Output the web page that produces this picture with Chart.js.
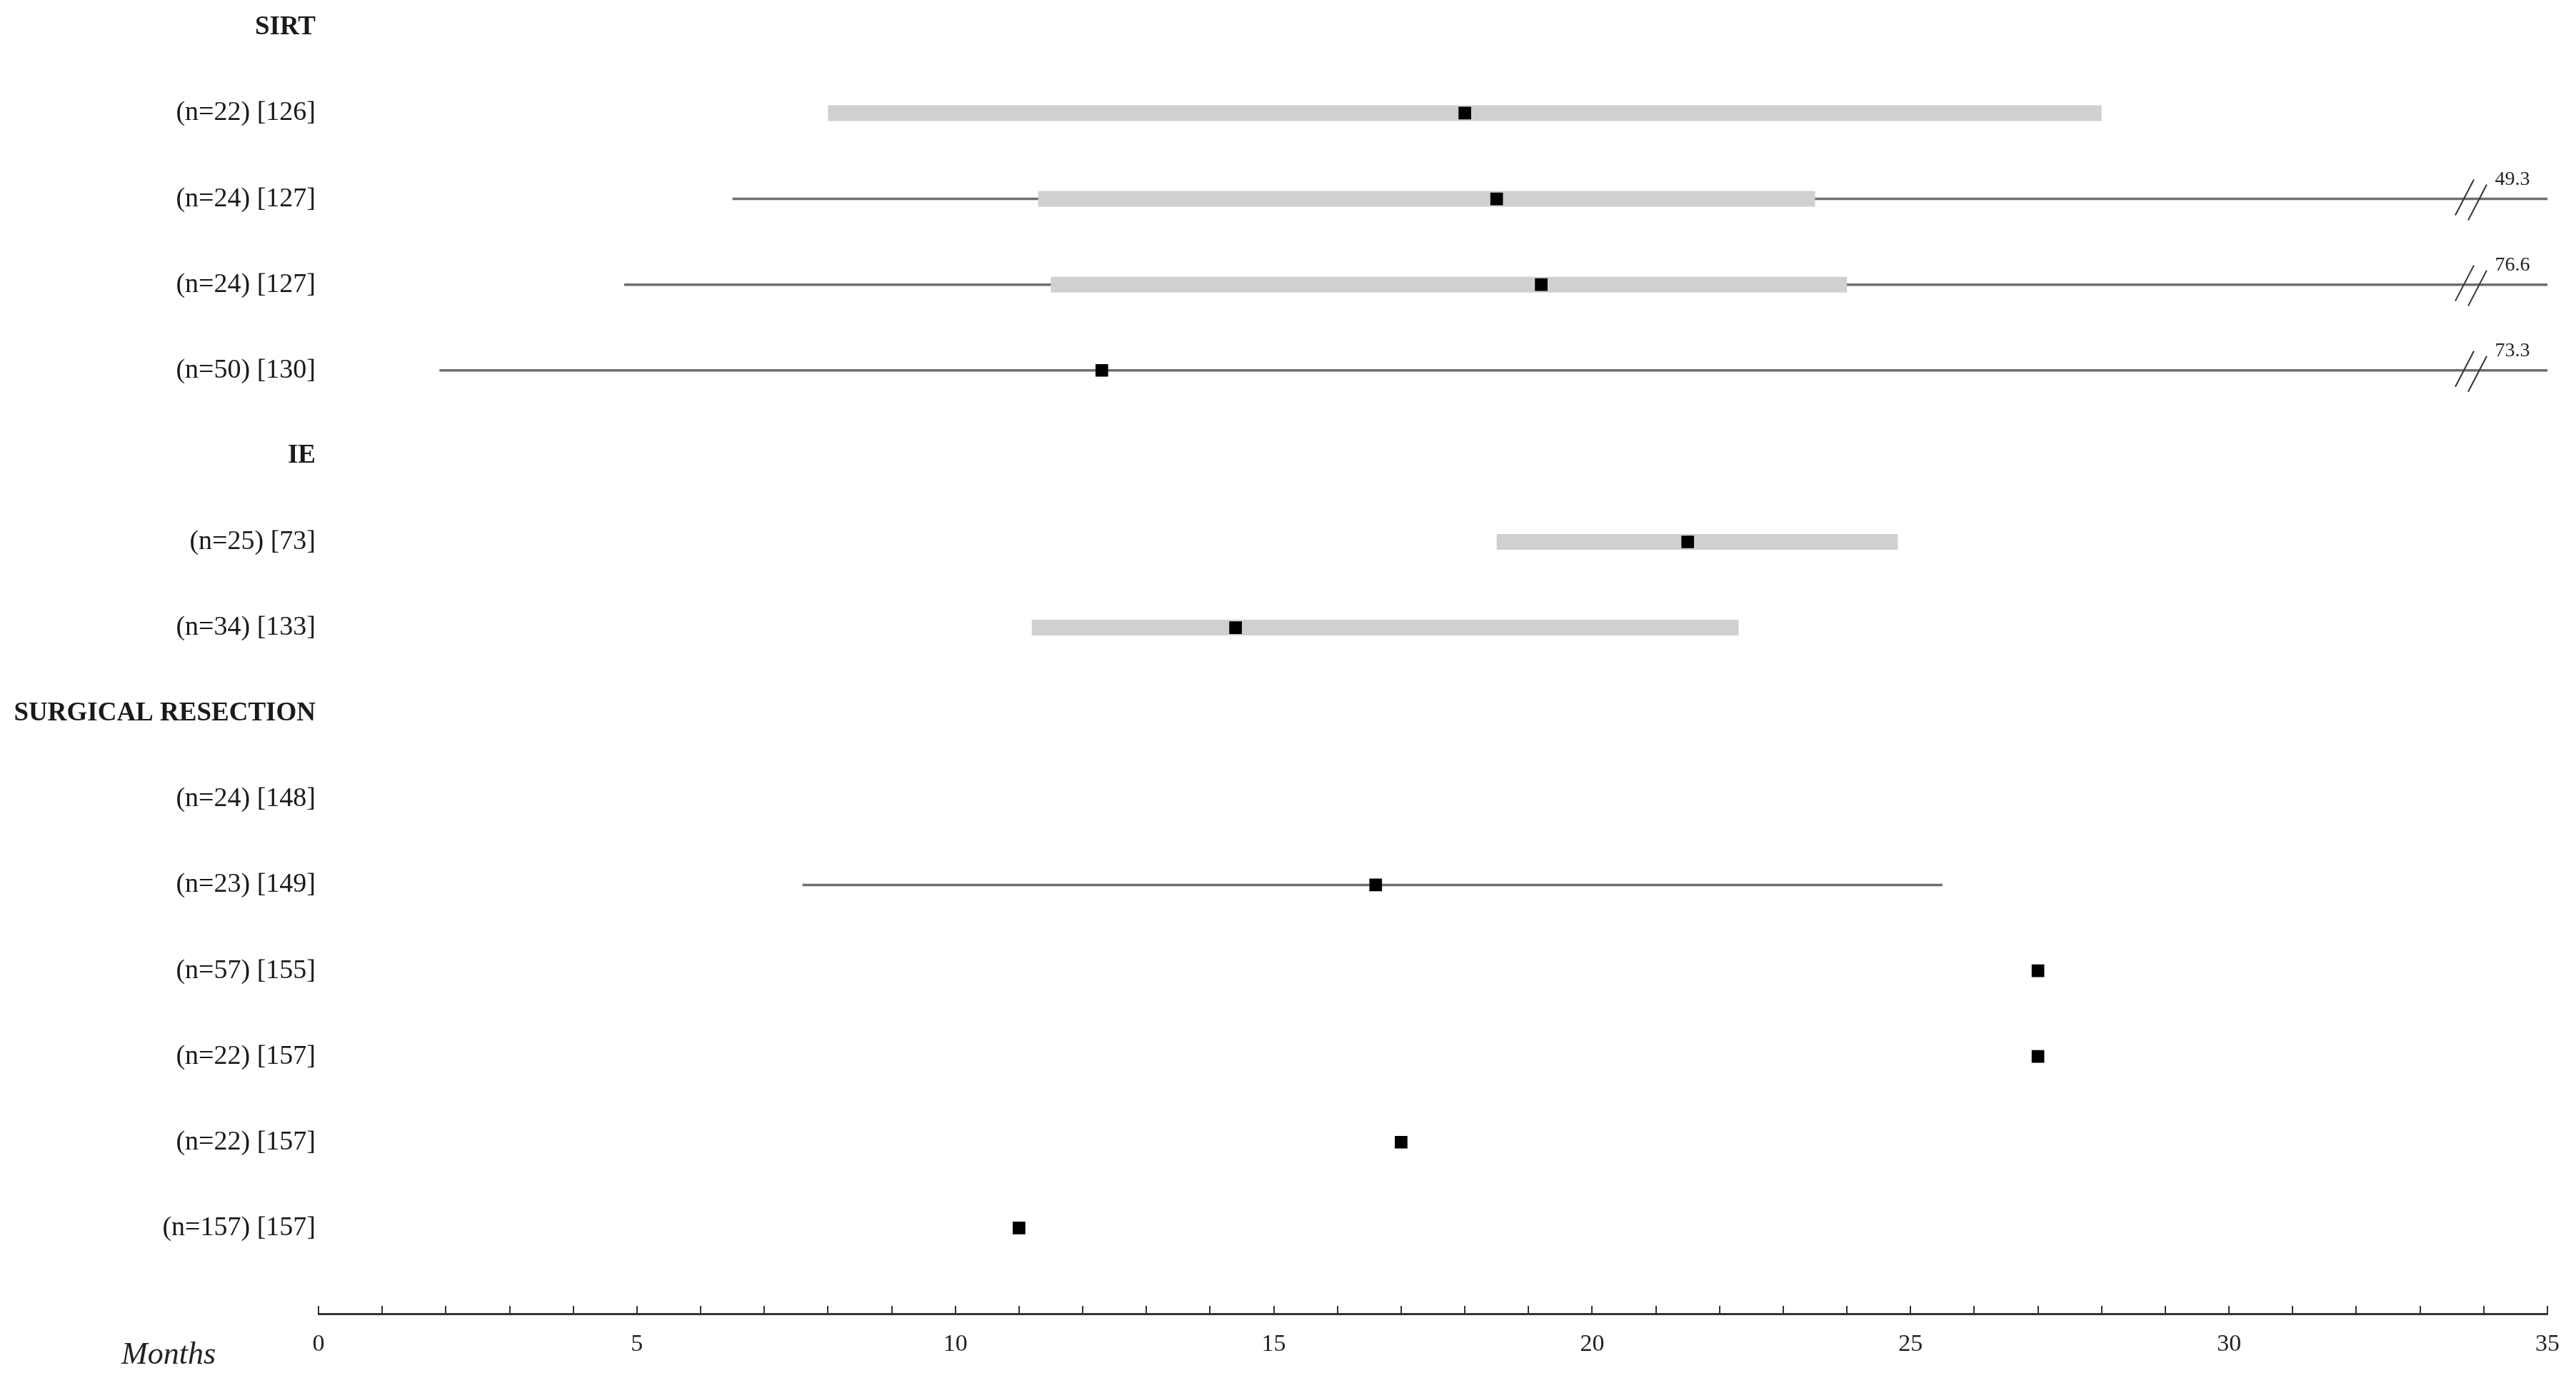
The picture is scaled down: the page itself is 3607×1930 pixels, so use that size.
<!DOCTYPE html>
<html>
<head>
<meta charset="utf-8">
<script src="https://cdn.jsdelivr.net/npm/chart.js@4.4.1/dist/chart.umd.min.js"></script>
<style>
html,body{margin:0;padding:0;background:#fff;}
#wrap{width:3607px;height:1930px;}
</style>
</head>
<body>
<div id="wrap"><canvas id="c" width="3607" height="1930"></canvas></div>
<script>
// ---- data ----
const rowLabels = ['SIRT','(n=22) [126]','(n=24) [127]','(n=24) [127]','(n=50) [130]',
  'IE','(n=25) [73]','(n=34) [133]',
  'SURGICAL RESECTION','(n=24) [148]','(n=23) [149]','(n=57) [155]','(n=22) [157]','(n=22) [157]','(n=157) [157]'];
const headerRows = [0, 5, 8];
const medians  = [null, 18.0, 18.5, 19.2, 12.3, null, 21.5, 14.4, null, null, 16.6, 27.0, 27.0, 17.0, 11.0];
const iqrLow   = [null,  8.0, 11.3, 11.5, null, null, 18.5, 11.2, null, null, null, null, null, null, null];
const iqrHigh  = [null, 28.0, 23.5, 24.0, null, null, 24.8, 22.3, null, null, null, null, null, null, null];
const rangeLow = [null, null,  6.5,  4.8,  1.9, null, null, null, null, null,  7.6, null, null, null, null];
const rangeHigh= [null, null, 49.3, 76.6, 73.3, null, null, null, null, null, 25.5, null, null, null, null];
const xTicks = [0, 5, 10, 15, 20, 25, 30, 35];
const xMin = 0, xMax = 35;
const breakAt = 33.8;

const FONT = "'Liberation Serif', 'Times New Roman', serif";

const datasets = [];
// medians (drawn on top)
datasets.push({
  type: 'scatter',
  order: 0,
  data: medians.map((m, i) => m === null ? null : {x: m, y: i}).filter(p => p),
  pointStyle: 'rect',
  pointRadius: 12.5,
  pointHoverRadius: 12.5,
  backgroundColor: '#000',
  borderWidth: 0
});
// IQR bars
iqrLow.forEach((lo, i) => {
  if (lo === null) return;
  datasets.push({
    type: 'line', order: 1,
    data: [{x: lo, y: i}, {x: iqrHigh[i], y: i}],
    borderColor: '#d0d0d0', borderWidth: 22, borderCapStyle: 'butt',
    pointRadius: 0, fill: false, tension: 0
  });
});
// ranges
rangeLow.forEach((lo, i) => {
  if (lo === null) return;
  datasets.push({
    type: 'line', order: 2,
    data: [{x: lo, y: i}, {x: Math.min(rangeHigh[i], xMax), y: i}],
    borderColor: '#6f6f6f', borderWidth: 3.5, borderCapStyle: 'butt',
    pointRadius: 0, fill: false, tension: 0
  });
});

const extras = {
  id: 'extras',
  afterDatasetsDraw(chart) {
    const ctx = chart.ctx, xs = chart.scales.x, ys = chart.scales.y;
    const area = chart.chartArea;
    ctx.save();
    // upward tick marks every month
    ctx.strokeStyle = '#333';
    ctx.lineWidth = 2;
    for (let v = xMin; v <= xMax; v++) {
      const px = Math.round(xs.getPixelForValue(v));
      ctx.beginPath();
      ctx.moveTo(px, area.bottom);
      ctx.lineTo(px, area.bottom - 11);
      ctx.stroke();
    }
    // axis breaks with true values
    rangeHigh.forEach((hi, i) => {
      if (hi === null || hi <= xMax) return;
      const py = ys.getPixelForValue(i);
      const bx = xs.getPixelForValue(breakAt);
      ctx.strokeStyle = '#333';
      ctx.lineWidth = 2;
      [[-9, -2], [9, 5]].forEach(([dx, dy]) => {
        ctx.beginPath();
        ctx.moveTo(bx + dx - 13, py + dy + 25);
        ctx.lineTo(bx + dx + 13, py + dy - 25);
        ctx.stroke();
      });
      ctx.fillStyle = '#222';
      ctx.font = '28px ' + FONT;
      ctx.textAlign = 'center';
      ctx.textBaseline = 'middle';
      ctx.fillText(hi.toFixed(1), xs.getPixelForValue(34.45), py - 27);
    });
    // axis name
    ctx.fillStyle = '#222';
    ctx.font = 'italic 44px ' + FONT;
    ctx.textAlign = 'center';
    ctx.textBaseline = 'middle';
    ctx.fillText('Months', 236, 1898);
    ctx.restore();
  }
};

new Chart(document.getElementById('c'), {
  type: 'scatter',
  data: { datasets },
  options: {
    responsive: false,
    animation: false,
    events: [],
    layout: { padding: { top: 4, right: 34, bottom: 0, left: 0 } },
    plugins: { legend: { display: false }, tooltip: { enabled: false } },
    scales: {
      x: {
        type: 'linear', position: 'bottom', min: xMin, max: xMax,
        afterBuildTicks: s => { s.ticks = xTicks.map(v => ({value: v})); },
        afterFit: s => { s.height = 90; s.paddingLeft = 0; },
        grid: { display: false, drawTicks: false },
        border: { display: true, color: '#333', width: 3 },
        ticks: { color: '#222', font: { family: FONT, size: 34 }, padding: 23, maxRotation: 0, autoSkip: false }
      },
      y: {
        type: 'linear', reverse: true, min: -0.215, max: 15,
        afterBuildTicks: s => { s.ticks = rowLabels.map((_, i) => ({value: i})); },
        afterFit: s => { s.width = 446; s.paddingTop = 0; s.paddingBottom = 0; },
        grid: { display: false, drawTicks: false },
        border: { display: false },
        ticks: {
          autoSkip: false,
          padding: 4,
          color: '#1a1a1a',
          callback: v => rowLabels[v],
          font: c => {
            const bold = headerRows.includes(c.tick && c.tick.value);
            return { family: FONT, size: bold ? 37 : 38, weight: bold ? 'bold' : 'normal' };
          }
        }
      }
    }
  },
  plugins: [extras]
});
</script>
</body>
</html>
